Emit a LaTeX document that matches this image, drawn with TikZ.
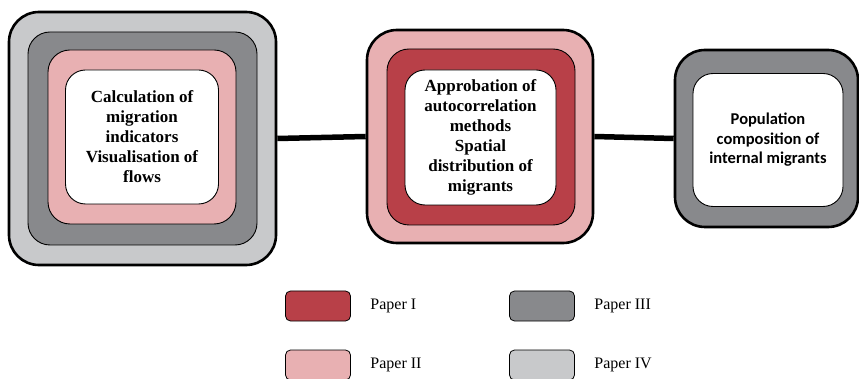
\documentclass[tikz,border=0pt]{standalone}
\usepackage{fontspec}
\setmainfont{Liberation Serif}
\newfontfamily\calibrifont{Carlito}

\definecolor{paperone}{RGB}{184,64,72}
\definecolor{papertwo}{RGB}{232,176,178}
\definecolor{paperthree}{RGB}{136,137,140}
\definecolor{paperfour}{RGB}{200,201,203}

\tikzset{
  layer/.style={draw=black, line width=0.9pt, rounded corners=22pt, inner sep=0pt},
  outerlayer/.style={layer, line width=2.6pt, rounded corners=30pt},
  boxtext/.style={font=\fontsize{17}{20}\selectfont\bfseries, align=center},
  legendbox/.style={draw=black, line width=0.8pt, rounded corners=5pt,
    minimum width=65pt, minimum height=30pt, inner sep=0pt},
  legendtext/.style={font=\fontsize{16}{18}\selectfont, anchor=west},
  link/.style={line width=5.5pt}
}

\begin{document}
\begin{tikzpicture}[x=1pt,y=-1pt]

\useasboundingbox (0,0) rectangle (859,379);

\node[outerlayer, fill=paperfour, minimum width=267pt, minimum height=253pt] (l4) at (142.5,138.5) {};
\node[layer, fill=paperthree, minimum width=229pt, minimum height=213pt] (l3) at (142.5,138.5) {};
\node[layer, fill=papertwo, minimum width=188pt, minimum height=174pt] (l2) at (142,137) {};
\node[layer, fill=white, boxtext, minimum width=153pt, minimum height=134pt, rounded corners=20pt] (l1) at (142,137)
  {Calculation of\\migration\\indicators\\Visualisation of\\flows};

\node[outerlayer, fill=papertwo, minimum width=226pt, minimum height=213pt] (m2) at (480,136.5) {};
\node[layer, fill=paperone, minimum width=188pt, minimum height=176pt] (m1) at (481,137) {};
\node[layer, fill=white, boxtext, minimum width=151pt, minimum height=135pt, rounded corners=20pt] (m0) at (480.5,137.5)
  {Approbation of\\autocorrelation\\methods\\Spatial\\distribution of\\migrants};

\node[outerlayer, fill=paperthree, minimum width=183pt, minimum height=177pt] (r2) at (766.5,138.5) {};
\node[layer, fill=white, minimum width=150pt, minimum height=133pt, rounded corners=20pt,
  font=\calibrifont\bfseries\fontsize{16.5}{19.5}\selectfont, align=center] (r1) at (768,140)
  {Population\\composition of\\internal migrants};

\draw[link] (l4.east) -- (m2.west);
\draw[link] (m2.east) -- (r2.west);

\node[legendbox, fill=paperone] (k1) at (318,306) {};
\node[legendtext] (t1) at ([xshift=16pt]k1.east) {Paper I};
\node[legendbox, fill=paperthree] (k3) at (542,306) {};
\node[legendtext] (t3) at ([xshift=16pt]k3.east) {Paper III};
\node[legendbox, fill=papertwo] (k2) at (318,365) {};
\node[legendtext] (t2) at ([xshift=16pt]k2.east) {Paper II};
\node[legendbox, fill=paperfour] (k4) at (542,365) {};
\node[legendtext] (t4) at ([xshift=16pt]k4.east) {Paper IV};

\end{tikzpicture}
\end{document}
